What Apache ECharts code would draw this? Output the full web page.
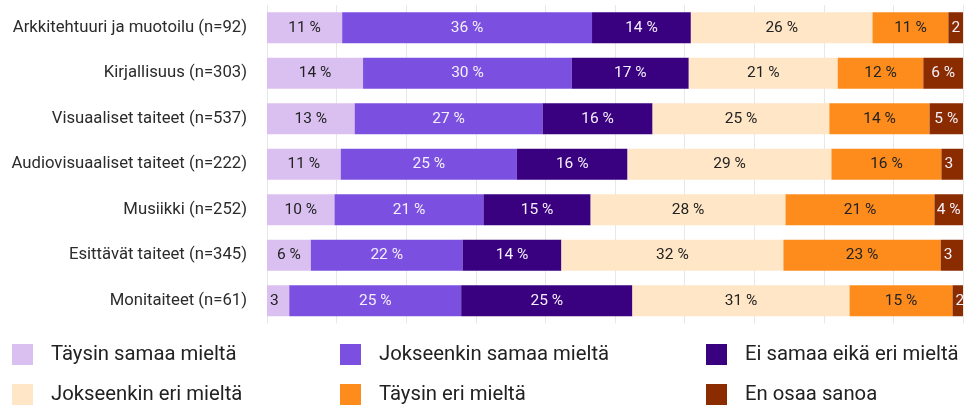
<!DOCTYPE html>
<html>
<head>
<meta charset="utf-8">
<script src="https://cdn.jsdelivr.net/npm/echarts@6/dist/echarts.min.js"></script>
<style>
html,body{margin:0;padding:0;background:#fff;}
#chart{width:966px;height:410px;}
</style>
</head>
<body>
<div id="chart"></div>
<script>
const categories = [
  'Arkkitehtuuri ja muotoilu (n=92)',
  'Kirjallisuus (n=303)',
  'Visuaaliset taiteet (n=537)',
  'Audiovisuaaliset taiteet (n=222)',
  'Musiikki (n=252)',
  'Esittävät taiteet (n=345)',
  'Monitaiteet (n=61)'
];
const seriesNames = [
  'Täysin samaa mieltä',
  'Jokseenkin samaa mieltä',
  'Ei samaa eikä eri mieltä',
  'Jokseenkin eri mieltä',
  'Täysin eri mieltä',
  'En osaa sanoa'
];
const taysinSamaa     = [10.8, 13.8, 12.6, 10.6, 9.7, 6.3, 3.2];
const jokseenkinSamaa = [35.9, 30.0, 27.0, 25.3, 21.4, 21.8, 24.7];
const eiSamaaEikaEri  = [14.2, 16.8, 15.8, 15.9, 15.4, 14.2, 24.6];
const jokseenkinEri   = [26.1, 21.4, 25.4, 29.3, 28.0, 31.9, 31.2];
const taysinEri       = [10.9, 12.3, 14.4, 15.8, 21.4, 22.6, 14.8];
const enOsaa          = [2.1, 5.7, 4.8, 3.1, 4.1, 3.2, 1.5];
const seriesValues = [taysinSamaa, jokseenkinSamaa, eiSamaaEikaEri, jokseenkinEri, taysinEri, enOsaa];

const colors = ['#dac0f1', '#7b50e1', '#390080', '#ffe6c6', '#fd8c1c', '#8a2c00'];
const labelColors = ['#222222', '#f4f0fb', '#f4f0fb', '#222222', '#222222', '#f4f0fb'];
const FONT = 'Roboto, "Noto Sans", sans-serif';
const LABEL_SIZE = 15.5;

const chart = echarts.init(document.getElementById('chart'), null, {renderer: 'canvas'});

const legendPos = [
  {left: 12, top: 344}, {left: 340, top: 344}, {left: 706, top: 344},
  {left: 12, top: 384}, {left: 340, top: 384}, {left: 706, top: 384}
];

const labelText = {};

function buildSeries(itemLabels) {
  return seriesNames.map((name, si) => ({
    name: name,
    type: 'bar',
    stack: 'total',
    barWidth: 31,
    itemStyle: {color: colors[si]},
    label: {
      show: true,
      position: 'inside',
      color: labelColors[si],
      fontFamily: FONT,
      fontSize: LABEL_SIZE,
      formatter: p => {
        const k = p.seriesIndex + '_' + p.dataIndex;
        return (k in labelText) ? labelText[k] : Math.round(p.value) + ' %';
      }
    },
    emphasis: {disabled: true},
    data: seriesValues[si].map((v, di) => {
      const it = {value: v};
      if (itemLabels && itemLabels[si + '_' + di]) it.label = itemLabels[si + '_' + di];
      return it;
    })
  }));
}

const option = {
  animation: false,
  backgroundColor: '#ffffff',
  grid: {left: 267, right: 3, top: 5, bottom: 86.5, containLabel: false},
  xAxis: {
    type: 'value', min: 0, max: 100, interval: 10,
    axisLabel: {show: false}, axisLine: {show: false}, axisTick: {show: false},
    splitLine: {show: true, lineStyle: {color: '#e8e8e8', width: 1}}
  },
  yAxis: {
    type: 'category', data: categories, inverse: true,
    axisLine: {show: false}, axisTick: {show: false},
    axisLabel: {margin: 20, color: '#2b2b2b', fontFamily: FONT, fontSize: 16.7}
  },
  legend: legendPos.map((p, i) => ({
    data: [seriesNames[i]],
    left: p.left, top: p.top,
    icon: 'rect', itemWidth: 21, itemHeight: 21,
    selectedMode: false,
    padding: 0,
    textStyle: {fontFamily: FONT, fontSize: 20.3, color: '#222222', padding: [3, 0, 0, 13]}
  })),
  series: buildSeries(null)
};
chart.setOption(option);

// Fit labels into their segments, using the axis scale
const ctx = document.createElement('canvas').getContext('2d');
ctx.font = LABEL_SIZE + 'px ' + FONT;
const itemLabels = {};
seriesValues.forEach((vals, si) => {
  vals.forEach((v, di) => {
    let start = 0;
    for (let k = 0; k < si; k++) start += seriesValues[k][di];
    const x0 = chart.convertToPixel({gridIndex: 0}, [start, 0])[0];
    const x1 = chart.convertToPixel({gridIndex: 0}, [start + v, 0])[0];
    const w = x1 - x0;
    const txt = Math.round(v) + ' %';
    const tw = ctx.measureText(txt).width;
    if (tw + 4 > w) {
      let s = txt;
      while (s.length > 1 && ctx.measureText(s).width > w - 4) s = s.slice(0, -1);
      labelText[si + '_' + di] = s.trimEnd();
      itemLabels[si + '_' + di] = {position: 'insideLeft', distance: 3};
    }
  });
});
chart.setOption({series: buildSeries(itemLabels)});
</script>
</body>
</html>
